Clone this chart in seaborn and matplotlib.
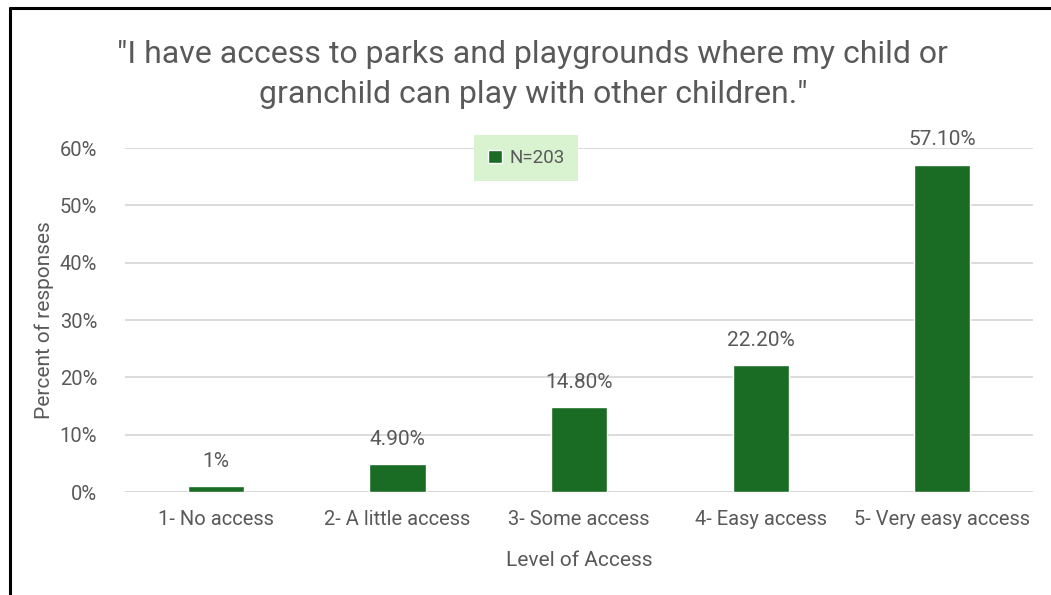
import matplotlib
matplotlib.use("Agg")
import matplotlib.pyplot as plt
from matplotlib.lines import Line2D
from matplotlib.ticker import FuncFormatter
import seaborn as sns
import pandas as pd

categories = ["1- No access", "2- A little access", "3- Some access",
              "4- Easy access", "5- Very easy access"]
percent = [1.0, 4.9, 14.8, 22.2, 57.1]
value_labels = ["1%", "4.90%", "14.80%", "22.20%", "57.10%"]
series_name = "N=203"
y_ticks = [0, 10, 20, 30, 40, 50, 60]

sns.set_theme(style="white")
plt.rcParams["font.family"] = ["Roboto", "DejaVu Sans"]

TEXT = "#595959"
BAR = "#1a6b24"
GRID = "#d9d9d9"

df = pd.DataFrame({"level": categories, "pct": percent})

fig = plt.figure(figsize=(10.51, 5.95), dpi=100)
ax = fig.add_axes([0.119, 0.173, 0.864, 0.578])

sns.barplot(data=df, x="level", y="pct", color=BAR, width=0.31,
            saturation=1, label=series_name, ax=ax, zorder=3)

ax.set_ylim(0, 60)
ax.set_yticks(y_ticks)
ax.yaxis.set_major_formatter(FuncFormatter(lambda v, p: f"{v:.0f}%"))
ax.grid(axis="y", color=GRID, linewidth=1.3, zorder=0)
ax.grid(axis="x", visible=False)
for s in ax.spines.values():
    s.set_visible(False)
ax.axhline(0, color=GRID, linewidth=1.3, zorder=1)
ax.tick_params(axis="both", length=0, labelsize=14.5, colors=TEXT)
ax.tick_params(axis="y", pad=20)
ax.tick_params(axis="x", pad=13)

for i, (v, lab) in enumerate(zip(percent, value_labels)):
    ax.annotate(lab, (i, v), xytext=(0, 11), textcoords="offset points",
                ha="center", va="bottom", fontsize=15, color=TEXT,
                annotation_clip=False)

ax.set_xlabel("Level of Access", fontsize=15, color=TEXT, labelpad=16)
ax.set_ylabel("Percent of responses", fontsize=15, color=TEXT, labelpad=4)

leg = ax.legend(loc="center", bbox_to_anchor=(0.442, 0.972), frameon=True,
                fontsize=13.5, handlelength=0.7, handleheight=0.7,
                handletextpad=0.4, borderpad=0.75, fancybox=False)
leg.get_frame().set_facecolor("#d9f2d0")
leg.get_frame().set_edgecolor("none")
leg.get_frame().set_alpha(1)
for t in leg.get_texts():
    t.set_color(TEXT)

fig.text(0.507, 0.875,
         "\"I have access to parks and playgrounds where my child or\n"
         "granchild can play with other children.\"",
         ha="center", va="center", fontsize=23, fontweight="normal",
         color=TEXT, linespacing=1.5)

# outer frame on the top and left edges
fig.add_artist(Line2D([0.0095, 0.0095], [0, 0.987], color="black",
                      linewidth=2.2, transform=fig.transFigure))
fig.add_artist(Line2D([0.0095, 1.0], [0.987, 0.987], color="black",
                      linewidth=2.2, transform=fig.transFigure))

fig.savefig("out.png", dpi=100)
